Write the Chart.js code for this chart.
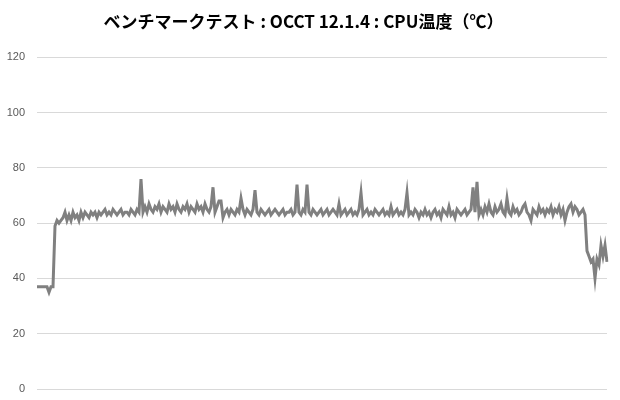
<!DOCTYPE html>
<html>
<head>
    <meta charset="utf-8">
    <title>OCCT CPU温度</title>
    <script src="https://cdn.jsdelivr.net/npm/chart.js@4/dist/chart.umd.min.js"></script>
    <style>
        body { margin: 0; background: #fff; }
    </style>
</head>
<body>
    <canvas id="tempChart" width="620" height="400"></canvas>

    <script>
        // CPU temperature samples (°C)
        var temps = [
            37, 37, 37, 37, 37, 37, 35, 37, 37,
            59, 61, 60, 61,
            62, 64, 61, 63, 61, 64, 62, 63, 61, 64, 62, 64, 63, 62, 64, 63, 64, 62, 64,
            63, 64, 65, 63, 64, 63, 65, 64, 63, 64, 65, 63, 64, 64, 63, 65, 64, 63, 65,
            64, 76, 64,
            66, 64, 67, 65, 64, 66, 65, 67, 64, 66, 65, 64, 67, 65, 66, 64, 67,
            65, 64, 66, 65, 67, 64, 66, 65, 64, 67, 65, 66, 64, 67, 65, 64, 66,
            73, 64, 66, 68, 68, 62,
            64, 65, 63, 65, 64, 63, 65, 64,
            69, 65, 63, 65, 64, 63, 65, 72, 64,
            63, 65, 64, 63, 64, 65, 63, 64, 65, 64, 63, 64, 65, 63, 64, 64, 65, 63, 64,
            74, 64, 63, 65, 64, 74, 64,
            63, 65, 64, 63, 64, 65, 63, 64, 65, 63, 64, 65, 64, 63,
            67,
            63, 64, 65, 63, 64, 65, 63, 64, 63, 65,
            71,
            63, 64, 65, 63, 64, 63, 65, 64, 63, 64, 65, 63, 64, 63,
            66, 63,
            64, 65, 63, 64, 63, 65,
            71,
            63, 64, 63, 65, 64, 62, 64, 63, 65, 63, 64, 62, 64, 65, 63, 64,
            62, 65, 64, 63, 66, 63, 64, 62, 65, 64, 63, 64, 65, 63, 64,
            65, 73, 64, 75, 63,
            65, 63, 66, 64, 67, 64, 63, 66, 64, 65, 67, 64, 63, 69, 64, 63,
            66, 64, 65, 63, 64, 66, 67, 64, 63, 61, 65, 64, 63, 66, 64, 65,
            63, 65, 64, 66, 63, 65, 64, 66, 63, 65, 61, 64, 66, 67, 64, 66, 65, 63, 64,
            65, 63,
            50, 48, 46, 47, 40, 47, 45, 52, 48, 52, 46
        ];

        // one category per sample (labels are not shown on the chart)
        var samples = temps.map(function (_, i) { return i + 1; });

        var yTicks = { min: 0, max: 120, step: 20 };

        var ctx = document.getElementById('tempChart').getContext('2d');
        var tempChart = new Chart(ctx, {
            type: 'line',
            data: {
                labels: samples,
                datasets: [{
                    label: 'CPU温度',
                    data: temps,
                    borderColor: '#808080',
                    borderWidth: 3,
                    pointRadius: 0,
                    tension: 0,
                    fill: false
                }]
            },
            options: {
                responsive: false,
                animation: false,
                layout: {
                    padding: { left: 0, right: 13, top: 0, bottom: 11 }
                },
                plugins: {
                    legend: { display: false },
                    tooltip: { enabled: false },
                    title: {
                        display: true,
                        text: 'ベンチマークテスト : OCCT 12.1.4 : CPU温度（℃）',
                        color: '#000000',
                        font: { family: '"Noto Sans CJK JP", "Noto Sans", sans-serif', size: 17, weight: 'bold', lineHeight: 1.2 },
                        padding: { top: 11, bottom: 26 }
                    }
                },
                scales: {
                    x: {
                        display: false,
                        offset: false
                    },
                    y: {
                        min: yTicks.min,
                        max: yTicks.max,
                        border: { display: false },
                        // invisible tick marks push the labels left without adding vertical padding
                        grid: { color: '#d9d9d9', lineWidth: 1, drawTicks: true, tickLength: 10, tickColor: 'rgba(0,0,0,0)' },
                        ticks: {
                            stepSize: yTicks.step,
                            color: '#595959',
                            padding: 2,
                            font: { family: '"Liberation Sans", sans-serif', size: 11 }
                        },
                        afterFit: function (scale) {
                            scale.width = 37;
                        }
                    }
                }
            }
        });
    </script>
</body>
</html>
